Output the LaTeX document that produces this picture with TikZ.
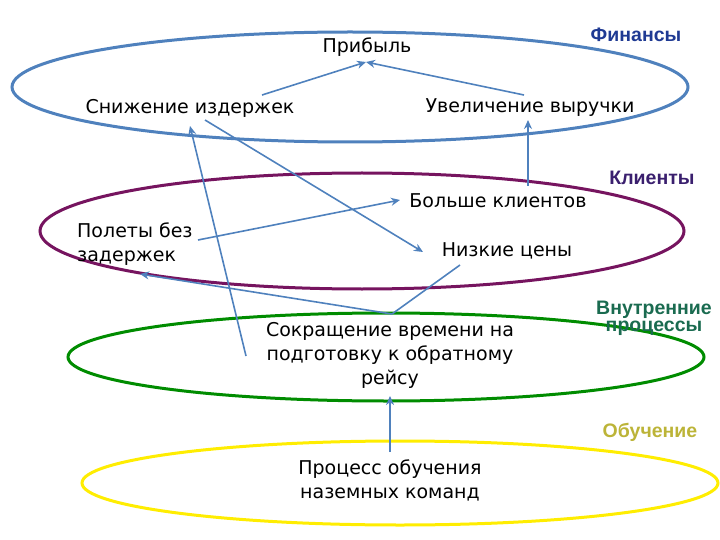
\documentclass[tikz,border=0pt]{standalone}
\usepackage{fontspec}
\setmainfont{DejaVu Sans}
\newfontfamily\hdr{Liberation Sans}
\usetikzlibrary{arrows.meta}
\definecolor{arr}{HTML}{4F81BD}
\definecolor{fin}{HTML}{1F3A93}
\definecolor{cli}{HTML}{3A1F6E}
\definecolor{vnu}{HTML}{1A6B50}
\definecolor{pur}{HTML}{76145F}
\begin{document}
\begin{tikzpicture}[x=1pt,y=-1pt,
  txt/.style={font=\fontsize{19}{24}\selectfont, inner sep=1pt, align=center},
  hd/.style={font=\hdr\bfseries\fontsize{19.5}{17}\selectfont, align=center, inner sep=0pt},
  link/.style={draw=arr, line width=1.6pt, -{Stealth[length=9pt,width=8pt]}},
  ring/.style={line width=3pt}]
\useasboundingbox (0,0) rectangle (720,540);
\draw[ring, draw=arr] (350,87) ellipse [x radius=338, y radius=55];
\draw[ring, draw=pur] (362,231) ellipse [x radius=322, y radius=58];
\draw[ring, draw=green!55!black] (386,357) ellipse [x radius=318, y radius=44];
\draw[ring, draw=yellow!95!orange] (400,483) ellipse [x radius=318, y radius=42];
\node[hd, text=fin] (hfin) at (636,35) {Финансы};
\node[hd, text=cli] (hcli) at (652,178) {Клиенты};
\node[hd, text=vnu] (hvnu) at (654,318) {Внутренние\\процессы};
\node[hd, text=yellow!70!black] (hobu) at (650,432) {Обучение};
\node[txt] (prib) at (367,47) {Прибыль};
\node[txt] (sniz) at (190,108) {Снижение издержек};
\node[txt] (uvel) at (530,108) {Увеличение выручки};
\node[txt] (bols) at (498,201) {Больше клиентов};
\node[txt, align=left, anchor=west] (pol) at (76,244) {Полеты без\\задержек};
\node[txt] (nizk) at (507,251) {Низкие цены};
\node[txt] (sokr) at (390,355) {Сокращение времени на\\подготовку к обратному\\рейсу};
\node[txt] (proc) at (390,480) {Процесс обучения\\наземных команд};
\coordinate (p1) at (262,95); \coordinate (p2) at (366,62);
\coordinate (u1) at (524,95);
\coordinate (b1) at (528,186); \coordinate (u2) at (528,120);
\coordinate (pl1) at (198,240); \coordinate (b2) at (400,200);
\coordinate (s1) at (205,120); \coordinate (n1) at (423,252);
\coordinate (g1) at (246,356); \coordinate (s2) at (190,126);
\coordinate (t1) at (392,314); \coordinate (pl2) at (140,274);
\coordinate (n2) at (460,265);
\coordinate (r1) at (390,452); \coordinate (r2) at (390,396);
\draw[link] (p1) -- (p2);
\draw[link] (u1) -- (p2);
\draw[link] (b1) -- (u2);
\draw[link] (pl1) -- (b2);
\draw[link] (s1) -- (n1);
\draw[link] (g1) -- (s2);
\draw[link] (t1) -- (pl2);
\draw[draw=arr, line width=1.6pt] (t1) -- (n2);
\draw[link] (r1) -- (r2);
\end{tikzpicture}
\end{document}
